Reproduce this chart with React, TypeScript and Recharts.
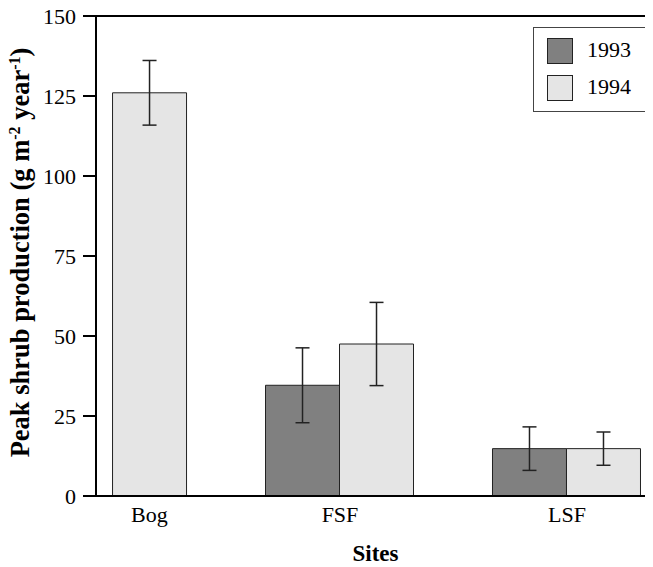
import React from 'react';
import { BarChart, Bar, XAxis, YAxis, ErrorBar, ReferenceLine, Legend, Label } from 'recharts';

const sites = ['Bog', 'FSF', 'LSF'];
const sitePos = [1, 2, 3];
const siteLabelPos = [1.16, 2, 3];
const prod1993: (number | null)[] = [null, 34.6, 14.8];
const err1993: (number | null)[] = [null, 11.7, 6.8];
const prod1994: (number | null)[] = [126, 47.5, 14.8];
const err1994: (number | null)[] = [10.1, 13, 5.2];
const yTicks = [0, 25, 50, 75, 100, 125, 150];
const seriesNames = ['1993', '1994'];

const data = sites.map((s, i) => ({
  site: s,
  pos: sitePos[i],
  y1993: prod1993[i],
  e1993: err1993[i],
  y1994: prod1994[i],
  e1994: err1994[i],
}));

const FONT = '"Liberation Serif", "Times New Roman", serif';
const COLORS = ['#808080', '#e5e5e5'];

const YLabel = (props: any) => {
  const vb = props.viewBox || { x: 0, y: 8, width: 88, height: 480 };
  const cy = vb.y + vb.height / 2 - 3.5;
  const x = 21;
  return (
    <text
      x={x}
      y={cy}
      transform={`rotate(-90, ${x}, ${cy})`}
      textAnchor="middle"
      fontFamily={FONT}
      fontWeight="bold"
      fontSize={26.5}
      fill="#000"
    >
      Peak shrub production (g m
      <tspan dy={-9} fontSize={16}>-2</tspan>
      <tspan dy={9}> year</tspan>
      <tspan dy={-9} fontSize={16}>-1</tspan>
      <tspan dy={9}>)</tspan>
    </text>
  );
};

const LegendBox = (props: any) => {
  const payload = props.payload || [];
  return (
    <svg width={116} height={86} style={{ display: 'block' }}>
      <rect x={0.5} y={0.5} width={114} height={84} fill="#fff" stroke="#444" strokeWidth={1} />
      {payload.map((p: any, i: number) => (
        <g key={i}>
          <rect x={14.5} y={11.5 + i * 37} width={25} height={25} fill={p.color} stroke="#222" strokeWidth={1} />
          <text x={54} y={30 + i * 37} fontFamily={FONT} fontSize={22} fill="#000">
            {p.value}
          </text>
        </g>
      ))}
    </svg>
  );
};

export default function App() {
  return (
    <div style={{ fontFamily: FONT }}>
      <BarChart
        width={645}
        height={559}
        data={data}
        margin={{ top: 8, right: 0, bottom: 0, left: 0 }}
        barGap={0}
        barSize={74}
      >
        <XAxis
          dataKey="pos"
          type="number"
          domain={[0.925, 3.379]}
          allowDataOverflow
          ticks={siteLabelPos}
          interval={0}
          tickFormatter={(v: number) => sites[siteLabelPos.indexOf(v)] ?? ''}
          tickLine={false}
          tickSize={6}
          tickMargin={4}
          height={71}
          axisLine={{ stroke: '#000', strokeWidth: 2 }}
          tick={{ fill: '#000', fontSize: 22, fontFamily: FONT }}
        >
          <Label
            value="Sites"
            position="insideBottom"
            offset={6}
            dx={1}
            style={{ fontFamily: FONT, fontWeight: 'bold', fontSize: 23, fill: '#000' }}
          />
        </XAxis>
        <YAxis
          type="number"
          domain={[0, 150]}
          ticks={yTicks}
          interval={0}
          width={88}
          tickSize={13}
          tickMargin={7}
          axisLine={{ stroke: '#000', strokeWidth: 2 }}
          tickLine={{ stroke: '#000', strokeWidth: 2 }}
          tick={{ fill: '#000', fontSize: 22, fontFamily: FONT }}
        >
          <Label content={<YLabel />} />
        </YAxis>
        <ReferenceLine y={150} stroke="#000" strokeWidth={2} />
        <Legend
          layout="horizontal"
          verticalAlign="middle"
          align="center"
          content={<LegendBox />}
          wrapperStyle={{ position: 'absolute', left: 525, top: 19, width: 116, height: 86 }}
        />
        <Bar dataKey="y1993" name={seriesNames[0]} fill={COLORS[0]} stroke="#222" strokeWidth={1} isAnimationActive={false}>
          <ErrorBar dataKey="e1993" width={7} stroke="#222" strokeWidth={1.5} isAnimationActive={false} />
        </Bar>
        <Bar dataKey="y1994" name={seriesNames[1]} fill={COLORS[1]} stroke="#222" strokeWidth={1} isAnimationActive={false}>
          <ErrorBar dataKey="e1994" width={7} stroke="#222" strokeWidth={1.5} isAnimationActive={false} />
        </Bar>
      </BarChart>
    </div>
  );
}
